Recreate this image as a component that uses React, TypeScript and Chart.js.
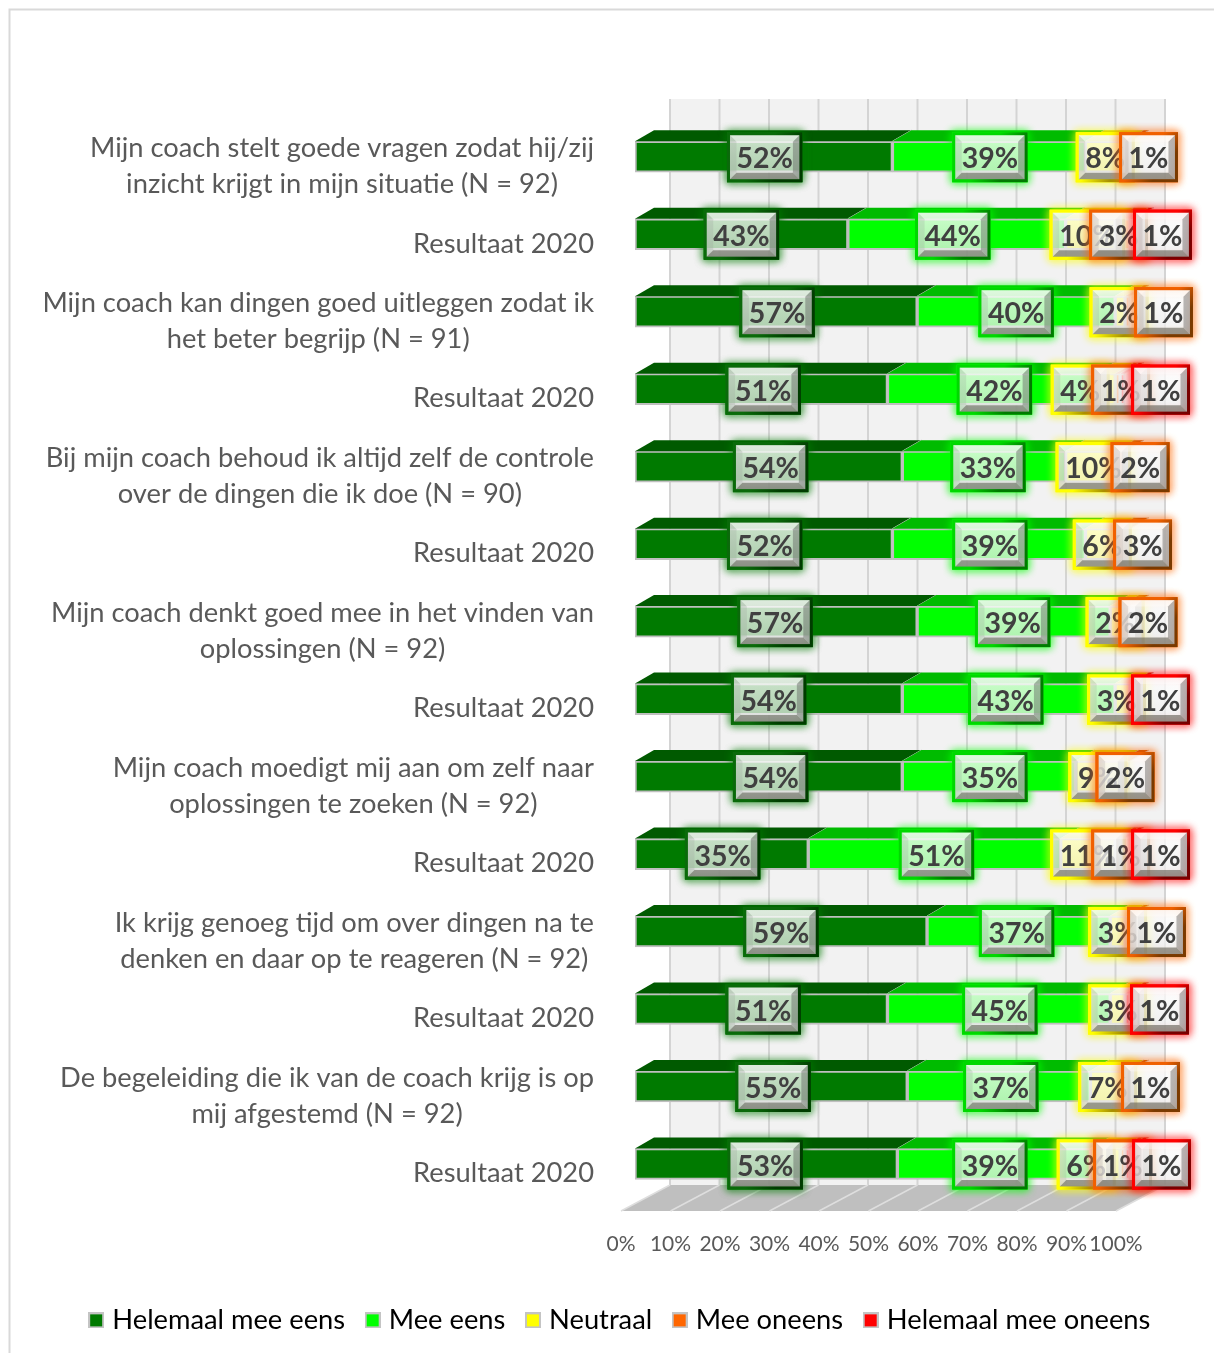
import React, { useEffect, useRef } from "react";
import { Chart, registerables } from "chart.js";

Chart.register(...registerables);

const categories: string[][] = [
  ["Mijn coach stelt goede vragen zodat hij/zij", "inzicht krijgt in mijn situatie (N = 92)"],
  ["Resultaat 2020"],
  ["Mijn coach kan dingen goed uitleggen zodat ik", "het beter begrijp (N = 91)"],
  ["Resultaat 2020"],
  ["Bij mijn coach behoud ik altijd zelf de controle", "over de dingen die ik doe (N = 90)"],
  ["Resultaat 2020"],
  ["Mijn coach denkt goed mee in het vinden van", "oplossingen (N = 92)"],
  ["Resultaat 2020"],
  ["Mijn coach moedigt mij aan om zelf naar", "oplossingen te zoeken (N = 92)"],
  ["Resultaat 2020"],
  ["Ik krijg genoeg tijd om over dingen na te", "denken en daar op te reageren (N = 92)"],
  ["Resultaat 2020"],
  ["De begeleiding die ik van de coach krijg is op", "mij afgestemd (N = 92)"],
  ["Resultaat 2020"],
];

const heelEens = [52, 43, 57, 51, 54, 52, 57, 54, 54, 35, 59, 51, 55, 53];
const eens = [39, 44, 40, 42, 33, 39, 39, 43, 35, 51, 37, 45, 37, 39];
const neutraal = [8, 10, 2, 4, 10, 6, 2, 3, 9, 11, 3, 3, 7, 6];
const oneens = [1, 3, 1, 1, 2, 3, 2, 0, 2, 1, 1, 0, 1, 1];
const heelOneens = [0, 1, 0, 1, 0, 0, 0, 1, 0, 1, 0, 1, 0, 1];

const seriesNames = ["Helemaal mee eens", "Mee eens", "Neutraal", "Mee oneens", "Helemaal mee oneens"];
const seriesValues = [heelEens, eens, neutraal, oneens, heelOneens];
const frontColors = ["#007a00", "#00ff00", "#ffff00", "#ff6600", "#ff0000"];
const topColors = ["#005a00", "#00bb00", "#c4c400", "#c04d00", "#c00000"];
const lightEdges = ["#0a6a0a", "#00d800", "#ffff00", "#f06000", "#ff0000"];
const darkEdges = ["#003c00", "#007a00", "#a89000", "#7a3a00", "#780000"];

// Horizontal label nudges in px, so the narrow end labels stay readable.
const labelNudges: number[][] = [
  [1, 1, 0, 21, 0],
  [0, -4, -3, -4, 30],
  [1, 0, -1, 36, 0],
  [2, 3, -25, 3, 38],
  [2, 4, 3, 20, 0],
  [1, 1, 2, 20, 0],
  [-1, -1, 0, 23, 0],
  [0, -3, -6, 0, 28],
  [2, 1, 0, 0, 0],
  [1, 2, 0, 3, 38],
  [0, -2, 0, 29, 0],
  [2, 1, 0, 0, 32],
  [2, 2, 0, 23, 0],
  [-1, -4, -19, 0, 34],
];

const xTicks = [0, 10, 20, 30, 40, 50, 60, 70, 80, 90, 100];

const BAR_SHIFT = 14;
const DEPTH_X = 19;
const DEPTH_Y = 11;
const WALL_SHIFT = 49;
const FONT = "Lato, Carlito, sans-serif";

// Frame, back wall and floor behind the bars.
const scenery = {
  id: "scenery",
  beforeDatasetsDraw(chart: any) {
    const { ctx, scales } = chart;
    const x = scales.x;
    const wallTop = 99;
    const floorBack = 1185;
    const floorFront = 1211;
    ctx.save();
    ctx.strokeStyle = "#d9d9d9";
    ctx.lineWidth = 2;
    ctx.beginPath();
    ctx.moveTo(9.5, 1353);
    ctx.lineTo(9.5, 9.5);
    ctx.lineTo(1214, 9.5);
    ctx.stroke();

    const l = x.getPixelForValue(0);
    const r = x.getPixelForValue(100);
    ctx.fillStyle = "#f2f2f2";
    ctx.fillRect(l + WALL_SHIFT, wallTop, r - l, floorBack - wallTop);

    ctx.fillStyle = "#bfbfbf";
    ctx.beginPath();
    ctx.moveTo(l, floorFront);
    ctx.lineTo(r, floorFront);
    ctx.lineTo(r + WALL_SHIFT, floorBack);
    ctx.lineTo(l + WALL_SHIFT, floorBack);
    ctx.closePath();
    ctx.fill();

    for (const t of xTicks) {
      const p = x.getPixelForValue(t);
      ctx.strokeStyle = "#d4d4d4";
      ctx.lineWidth = 2;
      ctx.beginPath();
      ctx.moveTo(p + WALL_SHIFT, wallTop);
      ctx.lineTo(p + WALL_SHIFT, floorBack);
      ctx.stroke();
      ctx.strokeStyle = "#dedede";
      ctx.lineWidth = 1.5;
      ctx.beginPath();
      ctx.moveTo(p + WALL_SHIFT, floorBack);
      ctx.lineTo(p, floorFront);
      ctx.stroke();
    }
    ctx.restore();

    // The bars stand a little behind the front edge of the floor.
    ctx.save();
    ctx.translate(BAR_SHIFT, 0);
  },
  afterDatasetsDraw(chart: any) {
    const { ctx } = chart;
    ctx.restore();

    // Top faces of the bars.
    ctx.save();
    ctx.translate(BAR_SHIFT, 0);
    chart.data.datasets.forEach((_: any, di: number) => {
      chart.getDatasetMeta(di).data.forEach((bar: any, i: number) => {
        if (!seriesValues[di][i]) return;
        const { x, y, base, height } = bar.getProps(["x", "y", "base", "height"], true);
        const top = y - height / 2;
        ctx.fillStyle = topColors[di];
        ctx.strokeStyle = "#bdbdbd";
        ctx.lineWidth = 1;
        ctx.beginPath();
        ctx.moveTo(base, top);
        ctx.lineTo(base + DEPTH_X, top - DEPTH_Y);
        ctx.lineTo(x + DEPTH_X, top - DEPTH_Y);
        ctx.lineTo(x, top);
        ctx.closePath();
        ctx.fill();
        ctx.beginPath();
        ctx.moveTo(x, top);
        ctx.lineTo(x + DEPTH_X, top - DEPTH_Y);
        ctx.stroke();
      });
    });
    ctx.restore();
  },
};

// Centred multi-line category captions, right-aligned as a block.
const categoryCaptions = {
  id: "categoryCaptions",
  afterDraw(chart: any) {
    const { ctx, scales } = chart;
    const y = scales.y;
    ctx.save();
    ctx.font = `27.3px ${FONT}`;
    ctx.fillStyle = "#595959";
    ctx.textAlign = "center";
    ctx.textBaseline = "middle";
    categories.forEach((lines, i) => {
      const cy = y.getPixelForValue(i) + 9.5;
      const w = Math.max(...lines.map((s) => ctx.measureText(s).width));
      const cx = 594 - w / 2;
      lines.forEach((s, k) => {
        ctx.fillText(s, cx, cy + (k - (lines.length - 1) / 2) * 36);
      });
    });
    ctx.restore();
  },
};

// Bevelled value labels with a coloured outline and soft glow.
function drawBevelBox(ctx: CanvasRenderingContext2D, cx: number, cy: number, w: number, h: number, di: number) {
  const l = cx - w / 2;
  const t = cy - h / 2;
  const r = l + w;
  const d = t + h;
  const b = 8;

  ctx.save();
  ctx.shadowColor = frontColors[di];
  ctx.shadowBlur = 9;
  ctx.strokeStyle = frontColors[di];
  ctx.lineWidth = 3;
  ctx.strokeRect(l, t, w, h);
  ctx.strokeRect(l, t, w, h);
  ctx.restore();

  const g = ctx.createLinearGradient(0, t, 0, d);
  g.addColorStop(0, "rgba(255,255,255,0.8)");
  g.addColorStop(1, "rgba(235,235,235,0.72)");
  ctx.fillStyle = g;
  ctx.fillRect(l, t, w, h);

  const quad = (pts: number[][], fill: string) => {
    ctx.fillStyle = fill;
    ctx.beginPath();
    pts.forEach(([px, py], n) => (n ? ctx.lineTo(px, py) : ctx.moveTo(px, py)));
    ctx.closePath();
    ctx.fill();
  };
  quad([[l, t], [r, t], [r - b, t + b], [l + b, t + b]], "rgba(255,255,255,0.35)");
  quad([[l, t], [l + b, t + b], [l + b, d - b], [l, d]], "rgba(150,150,150,0.22)");
  quad([[r, t], [r, d], [r - b, d - b], [r - b, t + b]], "rgba(90,90,90,0.42)");
  quad([[l, d], [r, d], [r - b, d - b], [l + b, d - b]], "rgba(90,90,80,0.58)");

  const edge = ctx.createLinearGradient(l, t, r, d);
  edge.addColorStop(0, lightEdges[di]);
  edge.addColorStop(0.45, lightEdges[di]);
  edge.addColorStop(0.75, darkEdges[di]);
  edge.addColorStop(1, darkEdges[di]);
  ctx.strokeStyle = edge;
  ctx.lineWidth = 3;
  ctx.strokeRect(l, t, w, h);
}

const valueBoxes = {
  id: "valueBoxes",
  afterDraw(chart: any) {
    const { ctx } = chart;
    ctx.save();
    ctx.translate(BAR_SHIFT, 0);
    seriesValues.forEach((vals, di) => {
      chart.getDatasetMeta(di).data.forEach((bar: any, i: number) => {
        const v = vals[i];
        if (!v) return;
        const { x, y, base } = bar.getProps(["x", "y", "base"], true);
        const text = `${v}%`;
        const cx = (x + base) / 2 + labelNudges[i][di];
        const cy = y + 0.5;
        ctx.font = `bold 28.5px ${FONT}`;
        const w = ctx.measureText(text).width + 16;
        drawBevelBox(ctx, cx, cy, w, 47, di);
        ctx.fillStyle = "#404040";
        ctx.textAlign = "center";
        ctx.textBaseline = "middle";
        ctx.fillText(text, cx, cy + 2);
      });
    });
    ctx.restore();
  },
};

// Small swatch with a grey rim for the legend.
function legendSwatch(color: string) {
  const c = document.createElement("canvas");
  c.width = 16;
  c.height = 16;
  const g = c.getContext("2d") as CanvasRenderingContext2D;
  g.fillStyle = "#c4c4c4";
  g.fillRect(0, 0, 16, 16);
  g.fillStyle = color;
  g.fillRect(2, 2, 12, 12);
  return c;
}

export default function App() {
  const ref = useRef<HTMLCanvasElement | null>(null);
  useEffect(() => {
    const swatches = frontColors.map(legendSwatch);
    const chart = new Chart(ref.current as HTMLCanvasElement, {
      type: "bar",
      data: {
        labels: categories.map((c) => c.join(" ")),
        datasets: seriesNames.map((name, i) => ({
          label: name,
          data: seriesValues[i],
          backgroundColor: frontColors[i],
          borderColor: "#bfbfbf",
          borderWidth: 2,
          borderSkipped: false,
          barThickness: 31,
        })),
      },
      options: {
        indexAxis: "y",
        animation: false,
        responsive: false,
        layout: { padding: { left: 30, top: 118, bottom: 9, right: 0 } },
        scales: {
          x: {
            stacked: true,
            min: 0,
            max: 100,
            position: "bottom",
            grid: { display: false },
            border: { display: false },
            afterBuildTicks: (s: any) => {
              s.ticks = xTicks.map((value) => ({ value }));
            },
            ticks: {
              padding: 21,
              maxRotation: 0,
              autoSkip: false,
              color: "#595959",
              font: { family: FONT, size: 21 },
              callback: (v: any) => `${v}%`,
            },
            afterFit: (s: any) => {
              s.height = 79;
            },
          },
          y: {
            stacked: true,
            grid: { display: false },
            border: { display: false },
            ticks: { display: false },
            afterFit: (s: any) => {
              s.width = 591;
            },
          },
          gutter: {
            axis: "y",
            position: "right",
            grid: { display: false },
            border: { display: false },
            ticks: { display: false },
            afterFit: (s: any) => {
              s.width = 98;
            },
          },
        } as any,
        plugins: {
          title: { display: false },
          tooltip: { enabled: false },
          legend: {
            position: "bottom",
            labels: {
              usePointStyle: true,
              boxWidth: 5,
              boxHeight: 16,
              padding: 25,
              color: "#595959",
              font: { family: FONT, size: 27.3 },
              generateLabels: () =>
                seriesNames.map((text, i) => ({
                  text,
                  datasetIndex: i,
                  fillStyle: frontColors[i],
                  strokeStyle: "#c4c4c4",
                  lineWidth: 0,
                  pointStyle: swatches[i],
                })),
            },
          },
        },
      },
      plugins: [scenery, categoryCaptions, valueBoxes],
    } as any);
    return () => chart.destroy();
  }, []);
  return (
    <div style={{ position: "absolute", left: 0, top: 0, width: 1214, height: 1353, background: "#fff" }}>
      <canvas ref={ref} width={1214} height={1353} style={{ display: "block" }} />
    </div>
  );
}
